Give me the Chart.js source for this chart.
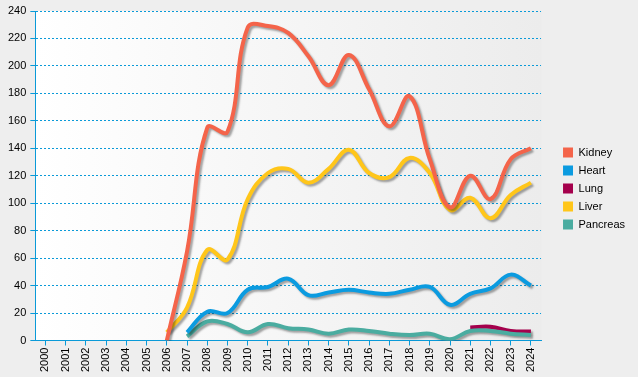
<!DOCTYPE html>
<html>
<head>
<meta charset="utf-8">
<script src="https://cdn.jsdelivr.net/npm/chart.js@4.4.1/dist/chart.umd.min.js"></script>
<style>
  html, body { margin: 0; padding: 0; background: #eeeeee; }
  #wrap { width: 638px; height: 377px; position: relative; }
</style>
</head>
<body>
<div id="wrap"><canvas id="transplants"></canvas></div>
<script>
const years = ['2000', '2001', '2002', '2003', '2004', '2005', '2006', '2007', '2008', '2009', '2010', '2011', '2012',
    '2013', '2014', '2015', '2016', '2017', '2018', '2019', '2020', '2021', '2022', '2023', '2024']

const kidney = [null, null, null, null, null, null, 0, 65, 155, 152, 228, 229, 224, 207, 186, 208, 183, 156, 178, 132, 97, 120, 103, 132, 140]
const heart = [null, null, null, null, null, null, null, 6, 21, 20, 37, 39, 45, 33, 35, 37, 35, 34, 37, 39, 26, 34, 38, 48, 40]
const lung = [null, null, null, null, null, null, null, null, null, null, null, null, null, null, null, null, null, null, null, null, null, 9.5, 10, 7, 6.5]
const liver = [null, null, null, null, null, null, 6, 24, 66, 59, 103, 122, 125, 115, 125, 139, 122, 119, 133, 122, 95, 104, 89, 106, 115]
const pancreas = [null, null, null, null, null, null, null, 3, 14, 12, 6, 12, 9, 8, 5, 8, 7, 5, 4, 5, 1, 7, 7, 5, 4]

const blue = '#0a9ad8'

// fundo em degradê da área do gráfico
const plotBackground = {
    id: 'plotBackground',
    beforeDraw(chart) {
        const { ctx, chartArea } = chart
        const grad = ctx.createLinearGradient(chartArea.left, 0, chartArea.right, 0)
        grad.addColorStop(0, '#ffffff')
        grad.addColorStop(1, '#ececec')
        ctx.save()
        ctx.fillStyle = grad
        ctx.fillRect(chartArea.left, chartArea.top, chartArea.right - chartArea.left, chartArea.bottom - chartArea.top)
        ctx.restore()
    }
}

// sombra das linhas
const lineShadow = {
    id: 'lineShadow',
    beforeDatasetDraw(chart) {
        const ctx = chart.ctx
        ctx.save()
        ctx.shadowColor = 'rgba(0, 0, 0, 0.35)'
        ctx.shadowOffsetX = 2
        ctx.shadowOffsetY = 2
        ctx.shadowBlur = 2
    },
    afterDatasetDraw(chart) {
        chart.ctx.restore()
    }
}

// empurra a legenda um pouco para a direita e para cima
const legendShift = {
    id: 'legendShift',
    afterLayout(chart) {
        if (chart.legend) {
            chart.legend.left += 15
            chart.legend.right += 15
            chart.legend.top -= 4
            chart.legend.bottom -= 4
        }
    }
}

function serie(label, color, data, order) {
    return {
        label: label,
        data: data,
        borderColor: color,
        backgroundColor: color,
        borderWidth: 4,
        pointRadius: 0,
        tension: 0.4,
        fill: false,
        order: order
    }
}

const config = {
    type: 'line',
    data: {
        labels: years,
        datasets: [
            serie('Kidney', '#f4644a', kidney, 0),
            serie('Heart', '#0b9be0', heart, 1),
            serie('Lung', '#a4004c', lung, 3),
            serie('Liver', '#ffc61a', liver, 2),
            serie('Pancreas', '#4aaca0', pancreas, 2)
        ]
    },
    options: {
        responsive: true,
        maintainAspectRatio: false,
        animation: false,
        layout: { padding: { top: 11, right: 18, left: 4, bottom: 3 } },
        plugins: {
            legend: {
                position: 'right',
                labels: {
                    boxWidth: 10,
                    boxHeight: 10,
                    padding: 7,
                    color: '#000',
                    font: { family: 'Liberation Sans', size: 11 },
                    sort: (a, b) => a.datasetIndex - b.datasetIndex,
                    generateLabels(chart) {
                        const items = Chart.defaults.plugins.legend.labels.generateLabels(chart)
                        items.forEach(item => { item.lineWidth = 0 })
                        return items
                    }
                }
            },
            tooltip: { enabled: false }
        },
        scales: {
            x: {
                offset: true,
                grid: {
                    drawOnChartArea: false,
                    color: blue,
                    tickLength: 5,
                    offset: false
                },
                border: { color: blue, width: 1 },
                ticks: {
                    color: '#000',
                    font: { family: 'Liberation Sans', size: 11 },
                    maxRotation: 90,
                    minRotation: 90,
                    autoSkip: false,
                    padding: 2
                }
            },
            y: {
                min: 0,
                max: 240,
                grid: {
                    color: blue,
                    tickBorderDash: [],
                    tickColor: blue,
                    tickLength: 5
                },
                border: { color: blue, width: 1, dash: [2, 2] },
                ticks: {
                    stepSize: 20,
                    color: '#000',
                    font: { family: 'Liberation Sans', size: 11 },
                    padding: 4
                }
            }
        }
    },
    plugins: [plotBackground, lineShadow, legendShift]
}

const ctxChart = document.getElementById('transplants').getContext('2d')
new Chart(ctxChart, config)
</script>
</body>
</html>
